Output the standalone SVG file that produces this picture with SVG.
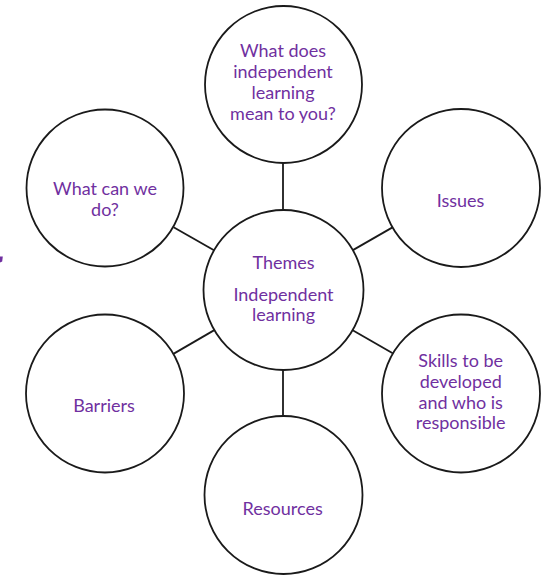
<svg xmlns="http://www.w3.org/2000/svg" width="550" height="577" viewBox="0 0 550 577">
  <style>
    .node circle { fill: #ffffff; stroke: #1a1a1a; stroke-width: 1.8; }
    .node text { font-family: Lato, "Open Sans", "Liberation Sans", sans-serif; font-size: 18px; fill: #7030A0; text-anchor: middle; }
    .conn line { stroke: #1a1a1a; stroke-width: 1.8; }
  </style>
  <rect width="550" height="577" fill="#ffffff"/>
  <path d="M0,256.5 L2.8,256.5 L2.2,261.5 L0,262.5 Z" fill="#7030A0"/>
  <g id="connectors" class="conn">
    <line x1="283" y1="162.5" x2="283" y2="210"/>
    <line x1="283" y1="370" x2="283" y2="416"/>
    <line x1="214" y1="250.3" x2="173.6" y2="227.2"/>
    <line x1="352.9" y1="250.1" x2="392.5" y2="227.4"/>
    <line x1="214.3" y1="330.1" x2="173.4" y2="353.9"/>
    <line x1="352.7" y1="330.2" x2="392.7" y2="353.3"/>
  </g>
  <g id="node-center" class="node">
    <circle cx="283.5" cy="290" r="80"/>
    <text x="283.5" y="269">Themes</text>
    <text x="283.5" y="300.7">Independent</text>
    <text x="283.5" y="321">learning</text>
  </g>
  <g id="node-meaning" class="node">
    <circle cx="283.5" cy="84.5" r="78.5"/>
    <text x="283" y="57.3">What does</text>
    <text x="283" y="78.3">independent</text>
    <text x="283" y="99.3">learning</text>
    <text x="283" y="120">mean to you?</text>
  </g>
  <g id="node-what-can-we-do" class="node">
    <circle cx="105" cy="188" r="78.5"/>
    <text x="105" y="195">What can we</text>
    <text x="105" y="216">do?</text>
  </g>
  <g id="node-issues" class="node">
    <circle cx="461" cy="188" r="79"/>
    <text x="460.5" y="206.7">Issues</text>
  </g>
  <g id="node-barriers" class="node">
    <circle cx="105" cy="393.5" r="79"/>
    <text x="104" y="411.7">Barriers</text>
  </g>
  <g id="node-skills" class="node">
    <circle cx="461" cy="393.5" r="79"/>
    <text x="460.7" y="367.3">Skills to be</text>
    <text x="460.7" y="388.3">developed</text>
    <text x="460.7" y="409.3">and who is</text>
    <text x="460.7" y="429.3">responsible</text>
  </g>
  <g id="node-resources" class="node">
    <circle cx="283.5" cy="495" r="79"/>
    <text x="282.7" y="515">Resources</text>
  </g>
</svg>
